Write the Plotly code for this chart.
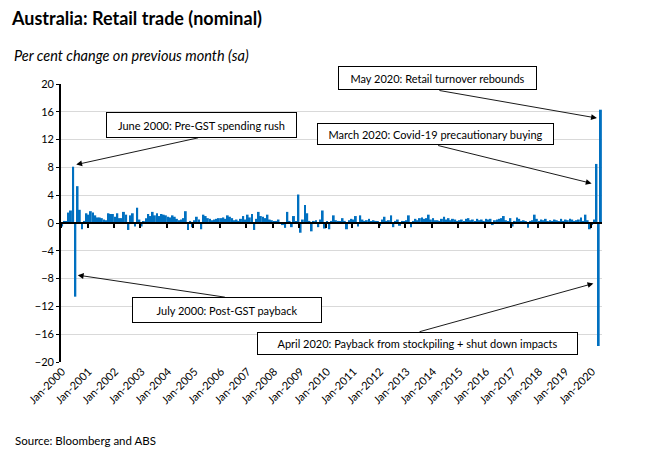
import plotly.graph_objects as go
import pandas as pd

# Months Jan-2000 .. May-2020
months = pd.date_range("2000-01-01", "2020-05-01", freq="MS").strftime("%b-%Y").tolist()

v2000 = [-0.5, 0.3, 0.2, 1.5, 1.8, 8.1, -10.6, 5.3, 1.9, -0.9, 0.3, 1.4]
v2001 = [1.2, 1.7, 1.5, 1.1, 0.8, 0.8, 0.7, 0.5, 0.4, 1.4, 1.3, 1.3]
v2002 = [0.9, 1.4, 0.7, 0.7, 1.6, 1.2, -1.0, 1.1, 1.4, -0.5, 2.2, 0.5]
v2003 = [-0.5, 0.2, 0.7, 1.3, 1.0, 1.6, 1.1, 1.4, 1.0, 1.3, 1.2, 1.1]
v2004 = [0.9, 0.8, 1.1, 0.9, 0.6, 0.4, 0.5, 0.7, 1.7, -1.0, 0.3, -0.6]
v2005 = [0.4, 0.9, 0.5, -0.9, 1.2, 1.0, 0.7, 0.6, 0.4, 0.5, 0.6, 0.7]
v2006 = [0.7, 0.8, 0.6, 1.1, 0.9, 0.7, 0.4, 0.5, 0.3, 0.6, 1.0, 0.5]
v2007 = [1.2, 0.8, 1.3, -1.0, 0.6, 1.6, 1.0, 0.9, 0.7, 1.2, 0.5, 0.4]
v2008 = [0.2, 0.3, 0.5, 0.1, -0.3, -0.7, 1.6, 0.3, -0.6, 1.0, 0.2, 4.1]
v2009 = [-1.4, 0.5, 2.6, 1.4, 0.3, -1.2, 0.3, 0.4, -0.6, 0.5, 1.8, -0.8]
v2010 = [0.2, -0.9, 0.3, 1.1, 0.4, 0.3, 0.2, 0.7, 0.3, -0.9, 0.4, 0.6]
v2011 = [0.5, 1.0, -0.5, 1.1, 0.5, 0.3, 0.4, 0.6, 0.2, 0.4, 0.3, 0.2]
v2012 = [-0.4, 0.5, 0.9, 0.3, 0.4, 1.1, -0.6, 0.3, 0.5, -0.4, 0.3, 0.2]
v2013 = [0.4, 1.1, -0.6, 0.3, 0.6, 0.4, 0.7, 0.8, 0.6, 0.7, 1.2, 0.5]
v2014 = [0.7, 0.4, 0.4, 0.3, 0.6, 0.9, 0.5, 0.7, 0.4, 0.6, 0.5, 0.3]
v2015 = [0.4, 0.5, 0.3, 0.6, 0.7, 0.4, 0.5, 0.3, 0.6, 0.4, 0.5, 0.3]
v2016 = [0.6, 0.5, 0.6, -0.3, 0.4, 0.5, 0.6, 0.7, 1.0, 0.4, 0.2, 0.7]
v2017 = [-0.5, 0.3, 0.8, 0.6, 0.3, 0.4, 0.2, -0.7, 0.3, 0.4, 1.2, 0.6]
v2018 = [0.3, 0.5, 0.4, 0.6, 0.2, 0.4, 0.3, 0.5, 0.4, 0.2, 0.6, 0.3]
v2019 = [0.5, 0.4, 0.6, 0.5, 0.3, 0.4, 0.5, 0.8, 0.3, 1.2, 0.4, -0.9]
v2020 = [-0.3, 0.5, 8.5, -17.7, 16.3]

values = (v2000 + v2001 + v2002 + v2003 + v2004 + v2005 + v2006 + v2007 + v2008
          + v2009 + v2010 + v2011 + v2012 + v2013 + v2014 + v2015 + v2016
          + v2017 + v2018 + v2019 + v2020)

tick_labels = ["Jan-%d" % y for y in range(2000, 2021)]
y_ticks = [-20, -16, -12, -8, -4, 0, 4, 8, 12, 16, 20]

xpos = list(range(len(months)))
label_pos = [months.index(t) for t in tick_labels]
boundary_pos = [-0.5] + [p - 0.5 for p in label_pos[1:]]

FONT = "Lato, 'Open Sans', sans-serif"
BLUE = "#0070C0"

W, H = 650, 455
ML, MR, MT, MB = 61, 48, 84, 93
PW, PH = W - ML - MR, H - MT - MB


def px(x):
    return (x - ML) / PW


def py(y):
    return (H - MB - y) / PH


fig = go.Figure()
fig.add_trace(go.Bar(x=xpos, y=values, marker_color=BLUE, marker_line_width=0,
                     hovertext=months, showlegend=False))
# helper trace for the axis drawn at zero
fig.add_trace(go.Scatter(x=[xpos[0], xpos[-1]], y=[0, 0], mode="lines",
                         line=dict(width=0), opacity=0, xaxis="x2",
                         showlegend=False, hoverinfo="skip"))

fig.update_layout(
    width=W, height=H,
    margin=dict(l=ML, r=MR, t=MT, b=MB),
    paper_bgcolor="white", plot_bgcolor="white",
    bargap=0.12,
    font=dict(family=FONT, size=11, color="#000000"),
    title=dict(text="<b>Australia: Retail trade (nominal)</b>",
               x=12 / W, xref="container", xanchor="left",
               y=1 - 19 / H, yref="container", yanchor="middle",
               font=dict(family=FONT, size=18, color="#000000")),
    xaxis=dict(range=[-0.5, len(months) - 0.5], tickvals=label_pos, ticktext=tick_labels,
               tickangle=-45, showgrid=False, zeroline=False, showline=False,
               ticks="", tickfont=dict(size=11, color="#000000")),
    xaxis2=dict(overlaying="x", matches="x", anchor="free", position=0.5,
                showline=True, linecolor="#000000", linewidth=1.6,
                tickvals=boundary_pos, ticks="outside", ticklen=4, tickwidth=1.5,
                tickcolor="#000000", showticklabels=False, showgrid=False,
                zeroline=False, layer="above traces"),
    yaxis=dict(range=[-20, 20], tickvals=y_ticks, showgrid=True, gridcolor="#D9D9D9",
               gridwidth=1, zeroline=False, showline=True, linecolor="#000000",
               linewidth=1.6, ticks="outside", ticklen=3, tickcolor="#000000",
               tickfont=dict(size=11, color="#000000")),
)

# Notes: (text, box centre px x, px y, box width px, box height px,
#         arrow tip x, tip y (data), arrow tail x, tail y (data))
notes = [
    ("May 2020: Retail turnover rebounds", 437.5, 77.8, 199, 24, 242.2, 15.1, 170.2, 19.1),
    ("June 2000: Pre-GST spending rush", 201.5, 124.5, 191, 26, 6.4, 8.4, 62.3, 12.3),
    ("March 2020: Covid-19 precautionary buying", 435.0, 134.2, 237, 22, 239.8, 5.7, 169.6, 11.2),
    ("July 2000: Post-GST payback", 227.3, 310.3, 190, 26, 7.1, -7.5, 74.4, -10.7),
    ("April 2020: Payback from stockpiling + shut down impacts", 417.0, 343.3, 321, 23, 240.6, -8.7, 161.2, -15.7),
]
for text, cx, cy, w, h, tx, ty, sx, sy in notes:
    fig.add_annotation(x=tx, y=ty, xref="x", yref="y", ax=sx, ay=sy, axref="x", ayref="y",
                       text="", showarrow=True, arrowhead=2, arrowsize=1.3,
                       arrowwidth=0.9, arrowcolor="#000000")
    fig.add_annotation(x=px(cx), y=py(cy), xref="paper", yref="paper", text=text,
                       showarrow=False, xanchor="center", yanchor="middle",
                       width=w - 2, height=h - 2, borderpad=0, bordercolor="#000000",
                       borderwidth=1, bgcolor="white", align="center", valign="middle",
                       font=dict(family=FONT, size=11, color="#000000"))

fig.add_annotation(text="<i>Per cent change on previous month (sa)</i>",
                   xref="paper", yref="paper", x=px(12), y=py(56),
                   xanchor="left", yanchor="middle", showarrow=False,
                   font=dict(family=FONT, size=14.5, color="#000000"))
fig.add_annotation(text="Source: Bloomberg and ABS",
                   xref="paper", yref="paper", x=px(13), y=py(440),
                   xanchor="left", yanchor="middle", showarrow=False,
                   font=dict(family=FONT, size=11.5, color="#000000"))

fig.write_html("out.html", config={"displayModeBar": False},
               post_script="document.body.style.margin='0';")
